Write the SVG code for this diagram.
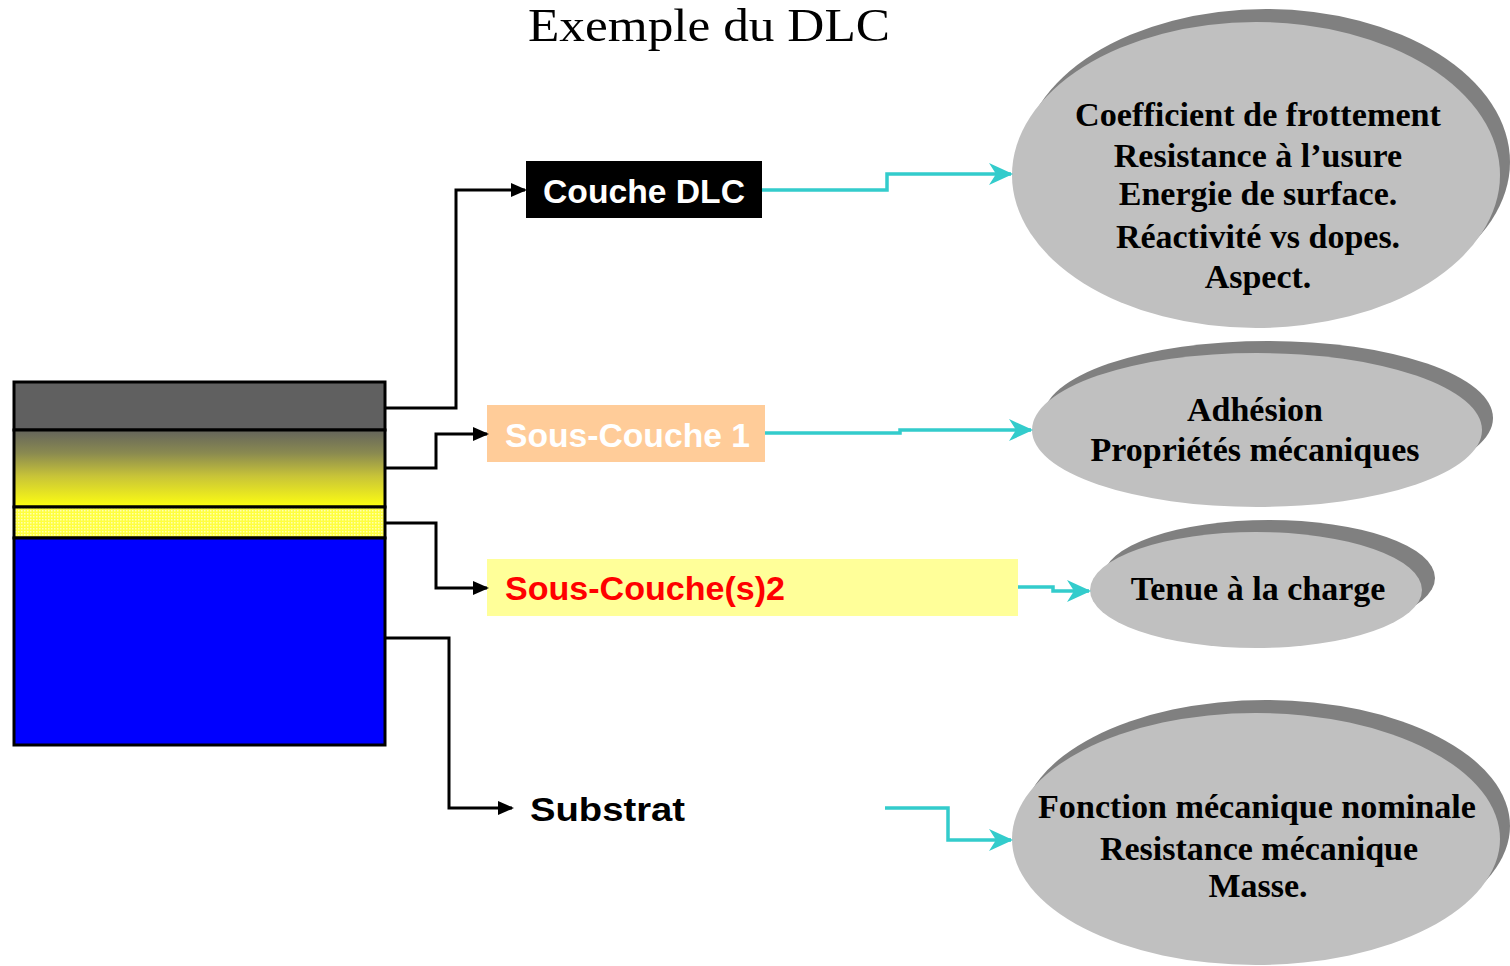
<svg xmlns="http://www.w3.org/2000/svg" width="1510" height="966" viewBox="0 0 1510 966">
<style>
.blk{fill:none;stroke:#000;stroke-width:3;marker-end:url(#ab)}
.cy{fill:none;stroke:#33cccc;stroke-width:3.5;marker-end:url(#ac)}
.sh{fill:#808080}
.el{fill:#c0c0c0}
.et{font-family:"Liberation Serif","Times New Roman",serif;font-weight:bold;font-size:34px;fill:#000;text-anchor:middle}
.bt{font-family:"Liberation Sans",Arial,sans-serif;font-weight:bold;font-size:33px}
</style>
<defs>
<marker id="ab" markerWidth="16" markerHeight="14" refX="14" refY="7" orient="auto" markerUnits="userSpaceOnUse"><path d="M0,0 L16,7 L0,14 Z" fill="#000"/></marker>
<marker id="ac" markerWidth="24" markerHeight="24" refX="22" refY="12" orient="auto" markerUnits="userSpaceOnUse"><path d="M0,1 L24,12 L0,23 L7,12 Z" fill="#33cccc"/></marker>
<linearGradient id="gy" x1="0" y1="0" x2="0" y2="1">
<stop offset="0" stop-color="#64645c"/>
<stop offset="0.3" stop-color="#8a8a50"/>
<stop offset="0.6" stop-color="#c8c438"/>
<stop offset="1" stop-color="#ffff10"/>
</linearGradient>
<pattern id="dots" width="3" height="3" patternUnits="userSpaceOnUse">
<rect width="3" height="3" fill="#ffff40"/>
<rect width="1.5" height="1.5" fill="#ffffb0"/>
</pattern>
</defs>
<text x="709" y="41" text-anchor="middle" font-family="'Liberation Serif','Times New Roman',serif" font-size="46" textLength="362" lengthAdjust="spacingAndGlyphs">Exemple du DLC</text>
<g id="stack">
<rect x="14" y="382" width="371" height="48" fill="#606060" stroke="#000" stroke-width="3"/>
<rect x="14" y="430" width="371" height="77" fill="url(#gy)" stroke="#000" stroke-width="3"/>
<rect x="14" y="507" width="371" height="31" fill="url(#dots)" stroke="#000" stroke-width="3"/>
<rect x="14" y="538" width="371" height="207" fill="#0000ff" stroke="#000" stroke-width="3"/>
</g>
<g id="couche-dlc">
<rect x="526" y="161" width="236" height="57" fill="#000"/>
<text class="bt" x="644" y="203" fill="#fff" text-anchor="middle" textLength="202" lengthAdjust="spacingAndGlyphs">Couche DLC</text>
</g>
<g id="sous-couche-1">
<rect x="487" y="405" width="278" height="57" fill="#ffcc99"/>
<text class="bt" x="505" y="447" fill="#fff" textLength="245" lengthAdjust="spacingAndGlyphs">Sous-Couche 1</text>
</g>
<g id="sous-couche-2">
<rect x="487" y="559" width="531" height="57" fill="#ffff99"/>
<text class="bt" x="505" y="600" fill="#ff0000" textLength="280" lengthAdjust="spacingAndGlyphs">Sous-Couche(s)2</text>
</g>
<g id="substrat">
<text class="bt" x="530" y="821" fill="#000" font-size="38" textLength="155" lengthAdjust="spacingAndGlyphs">Substrat</text>
</g>
<g id="ell1">
<ellipse class="sh" cx="1266" cy="162" rx="244" ry="153"/>
<ellipse class="el" cx="1256" cy="175" rx="244" ry="153"/>
<text class="et" x="1258" y="126" textLength="366" lengthAdjust="spacingAndGlyphs">Coefficient de frottement</text>
<text class="et" x="1258" y="167">Resistance à l’usure</text>
<text class="et" x="1258" y="205">Energie de surface.</text>
<text class="et" x="1258" y="248">Réactivité vs dopes.</text>
<text class="et" x="1258" y="288">Aspect.</text>
</g>
<g id="ell2">
<ellipse class="sh" cx="1268" cy="418" rx="225" ry="77"/>
<ellipse class="el" cx="1257" cy="430" rx="225" ry="77"/>
<text class="et" x="1255" y="421">Adhésion</text>
<text class="et" x="1255" y="461">Propriétés mécaniques</text>
</g>
<g id="ell3">
<ellipse class="sh" cx="1269" cy="578" rx="166" ry="58"/>
<ellipse class="el" cx="1256" cy="590" rx="166" ry="58"/>
<text class="et" x="1258" y="600">Tenue à la charge</text>
</g>
<g id="ell4">
<ellipse class="sh" cx="1266" cy="826" rx="244" ry="126"/>
<ellipse class="el" cx="1256" cy="839" rx="244" ry="126"/>
<text class="et" x="1257" y="818" textLength="438" lengthAdjust="spacingAndGlyphs">Fonction mécanique nominale</text>
<text class="et" x="1259" y="860">Resistance mécanique</text>
<text class="et" x="1258" y="897">Masse.</text>
</g>
<g id="connectors">
<path class="blk" d="M385,408 H456 V190 H525"/>
<path class="blk" d="M385,468 H436 V434 H487"/>
<path class="blk" d="M385,523 H436 V588 H487"/>
<path class="blk" d="M385,638 H449 V808 H512"/>
<path class="cy" d="M762,190 H887 V174 H1011"/>
<path class="cy" d="M765,433 H900 V430 H1031"/>
<path class="cy" d="M1018,587 H1053 V591 H1089"/>
<path class="cy" d="M885,808 H948 V840 H1011"/>
</g>
</svg>
